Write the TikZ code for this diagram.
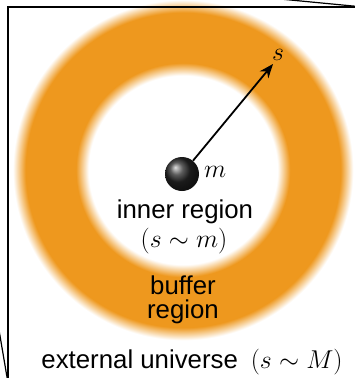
\documentclass[tikz,border=0pt]{standalone}
\usepackage{fix-cm}
\usepackage{fontspec}
\setmainfont{Liberation Sans}
\usepackage{tikz}
\usetikzlibrary{arrows.meta, positioning}
\definecolor{bufferorange}{RGB}{238,152,30}
\pgfdeclareradialshading{bufferring}{\pgfpoint{0bp}{0bp}}{color(0bp)=(white); color(13.5bp)=(white); color(15.3bp)=(bufferorange); color(22.5bp)=(bufferorange); color(24.3bp)=(white); color(50bp)=(white)}
\tikzset{
  lbl/.style={font=\fontsize{25.8}{30}\selectfont, inner sep=0pt, anchor=base},
  mlbl/.style={font=\fontsize{25.8}{30}\selectfont, inner sep=0pt},
  frame/.style={draw=black, line width=1.6pt},
  mass/.style={circle, shading=ball, ball color=black!85, minimum size=34pt,
               inner sep=0pt},
  arc/.style={-{Stealth[length=14pt, width=11pt]}, line width=1.8pt}
}

\begin{document}
\begin{tikzpicture}[x=1pt, y=-1pt]
\useasboundingbox (0,0) rectangle (355,378);
% buffer region, blurred ring
\shade[shading=bufferring] (183,170) circle (175);
% frame of the external universe
\draw[frame] (400,7) -- (8,7) -- (8,400);
\draw[frame, line width=1.2pt] (280,-1) -- (358,6.5);
\draw[frame, line width=1.2pt] (-1,330) -- (7.5,380);
% central mass and radius
\coordinate (tip) at (273,64);
\node[mass] (ball) at (182,174) {};
\draw[arc] (ball) -- (tip);
\node[mlbl, anchor=base west] (mlab) at (204,177) {$m$};
\node[mlbl] (slab) at (278,55) {$s$};
% region labels
\node[lbl] (inner) at (185,218) {inner region};
\node[lbl] (innerscale) at (184,247) {$(s\sim m)$};
\node[lbl] (buffer) at (183,294) {buffer};
\node[lbl] (bufreg) at (183,318) {region};
\node[lbl] (external) at (192,368) {external universe\enspace$(s\sim M)$};
\end{tikzpicture}
\end{document}
